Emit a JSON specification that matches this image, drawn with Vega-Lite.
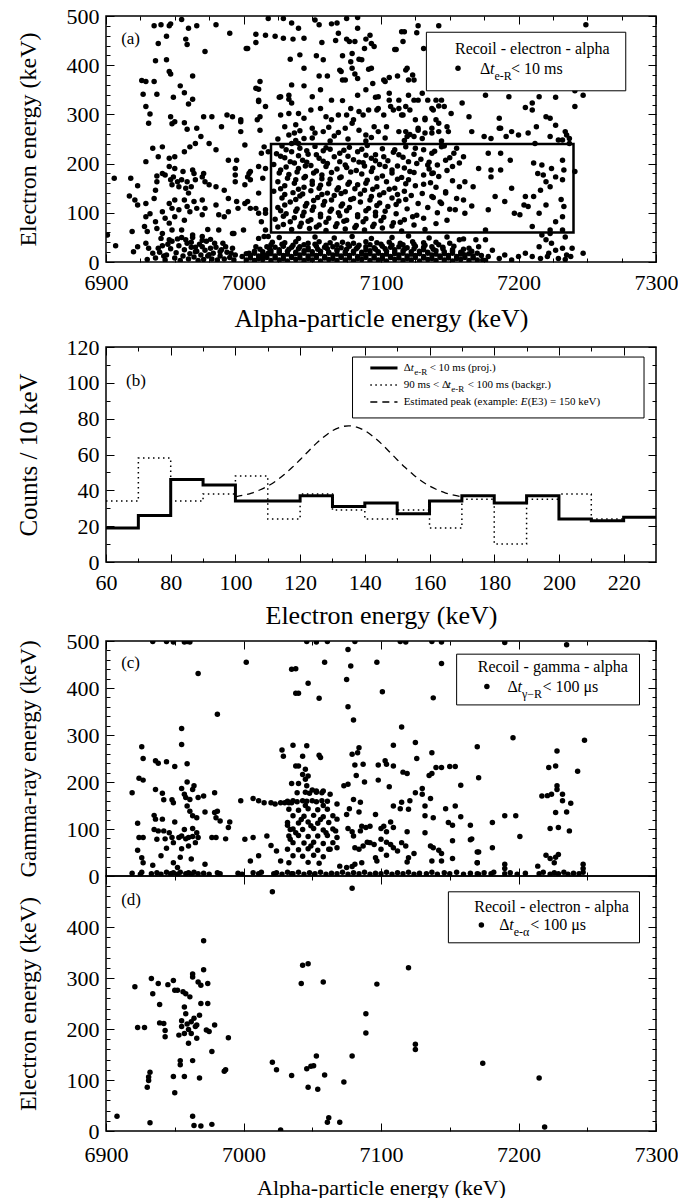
{
"$schema":"https://vega.github.io/schema/vega-lite/v6.json",
"padding":{"left":15,"top":4,"right":2,"bottom":0},
"config":{"font":"Liberation Serif, Times New Roman, Times, serif","view":{"stroke":"black","strokeWidth":1.5},
"style":{"guide-label":{"font":"Liberation Serif, Times New Roman, Times, serif"},"guide-title":{"font":"Liberation Serif, Times New Roman, Times, serif"}},
"axis":{"grid":false,"domain":false,"zindex":1,"labelFont":"Liberation Serif, Times New Roman, Times, serif","labelFontSize":22,"labelColor":"black","titleFont":"Liberation Serif, Times New Roman, Times, serif","titleFontSize":24,"titleFontWeight":"normal","titleColor":"black","tickColor":"black","tickWidth":1,"labelFlush":false,"labelOverlap":false},
"text":{"font":"Liberation Serif, Times New Roman, Times, serif","color":"black"}},
"datasets":{
"pa":[{"a":6935,"e":480},{"a":6940,"e":482},{"a":6946,"e":480},{"a":6947,"e":484},{"a":6955,"e":493},{"a":6960,"e":475},{"a":6966,"e":480},{"a":6980,"e":482},{"a":6990,"e":465},{"a":6958,"e":453},{"a":6959,"e":442},{"a":6938,"e":444},{"a":6944,"e":459},{"a":6972,"e":428},{"a":7002,"e":434},{"a":7009,"e":463},{"a":7009,"e":446},{"a":7018,"e":495},{"a":7029,"e":495},{"a":7023,"e":459},
{"a":6936,"e":409},{"a":6944,"e":411},{"a":6946,"e":387},{"a":6947,"e":382},{"a":6963,"e":378},{"a":6926,"e":369},{"a":6929,"e":367},{"a":6935,"e":367},{"a":6927,"e":341},{"a":6937,"e":341},{"a":6929,"e":316},{"a":6931,"e":282},{"a":6932,"e":301},{"a":6949,"e":335},{"a":6954,"e":358},{"a":6957,"e":344},{"a":6963,"e":331},{"a":6960,"e":321},{"a":6947,"e":295},{"a":6948,"e":281},{"a":6950,"e":285},{"a":6957,"e":283},{"a":6959,"e":270},{"a":6966,"e":272},{"a":6969,"e":255},{"a":6965,"e":241},{"a":6971,"e":295},{"a":6977,"e":295},{"a":6984,"e":275},{"a":6988,"e":299},{"a":6992,"e":295},{"a":6998,"e":289},{"a":6998,"e":265},{"a":7001,"e":238},{"a":7011,"e":351},{"a":7011,"e":326},{"a":7012,"e":295},{"a":7016,"e":316},{"a":7026,"e":335},{"a":7027,"e":299},{"a":7033,"e":302},{"a":7033,"e":339},{"a":7033,"e":331},{"a":7035,"e":360},{"a":7044,"e":251},{"a":7037,"e":262},{"a":7035,"e":241},{"a":7040,"e":241},{"a":6975,"e":241},{"a":6980,"e":228},{"a":6961,"e":234},{"a":6957,"e":224},{"a":6950,"e":214},{"a":6946,"e":211},{"a":6938,"e":214},{"a":6941,"e":234},{"a":6929,"e":204},{"a":6934,"e":231},
{"a":6906,"e":170},{"a":6918,"e":170},{"a":6923,"e":155},{"a":6917,"e":134},{"a":6921,"e":126},{"a":6923,"e":116},{"a":6929,"e":119},{"a":6932,"e":98},{"a":6929,"e":92},{"a":6928,"e":72},{"a":6930,"e":62},{"a":6936,"e":82},{"a":6937,"e":68},{"a":6935,"e":129},{"a":6936,"e":146},{"a":6937,"e":175},{"a":6941,"e":180},{"a":6937,"e":163},{"a":6943,"e":177},{"a":6946,"e":194},{"a":6947,"e":167},{"a":6948,"e":157},{"a":6949,"e":173},{"a":6950,"e":190},{"a":6952,"e":163},{"a":6953,"e":153},{"a":6955,"e":167},{"a":6956,"e":184},{"a":6958,"e":150},{"a":6959,"e":163},{"a":6960,"e":140},{"a":6963,"e":187},{"a":6964,"e":180},{"a":6965,"e":167},{"a":6962,"e":153},{"a":6970,"e":173},{"a":6972,"e":163},{"a":6971,"e":180},{"a":6975,"e":157},{"a":6946,"e":119},{"a":6948,"e":109},{"a":6950,"e":126},{"a":6953,"e":106},{"a":6957,"e":126},{"a":6959,"e":113},{"a":6961,"e":102},{"a":6964,"e":123},{"a":6966,"e":109},{"a":6970,"e":126},{"a":6972,"e":109},{"a":6980,"e":116},{"a":6982,"e":96},{"a":6989,"e":102},{"a":6941,"e":102},{"a":6943,"e":89},{"a":6950,"e":92},{"a":6957,"e":85},{"a":6946,"e":79},{"a":6941,"e":58},{"a":6948,"e":65},{"a":6955,"e":65},{"a":6963,"e":55},{"a":6970,"e":52},{"a":6974,"e":66},{"a":6992,"e":58},{"a":6982,"e":65},{"a":6986,"e":92},{"a":6970,"e":96},
{"a":6901,"e":55},{"a":6907,"e":33},{"a":6919,"e":62},{"a":6923,"e":31},{"a":6920,"e":21},{"a":6929,"e":38},{"a":6931,"e":28},{"a":6934,"e":18},{"a":6930,"e":5},
{"a":7012,"e":367},{"a":7012,"e":268},{"a":7018,"e":224},{"a":7003,"e":173},{"a":7005,"e":184},{"a":7011,"e":194},{"a":7014,"e":170},{"a":7016,"e":190},{"a":7011,"e":140},{"a":6995,"e":123},{"a":7001,"e":119},{"a":7005,"e":109},{"a":7011,"e":99},{"a":7016,"e":106},{"a":6989,"e":207},{"a":6994,"e":190},{"a":6986,"e":146},{"a":6980,"e":153},{"a":6989,"e":129},{"a":6994,"e":163},{"a":7000,"e":65},{"a":7011,"e":48},{"a":7018,"e":52},{"a":7009,"e":31},{"a":6999,"e":11},{"a":7004,"e":18},{"a":6992,"e":28},{"a":6983,"e":21},{"a":6976,"e":28},{"a":6970,"e":31},{"a":6965,"e":21},{"a":6994,"e":14},{"a":7014,"e":11},{"a":7018,"e":18},
{"a":6936,"e":8},{"a":6939,"e":20},{"a":6941,"e":33},{"a":6943,"e":4},{"a":6944,"e":14},{"a":6947,"e":27},{"a":6948,"e":42},{"a":6950,"e":8},{"a":6951,"e":19},{"a":6953,"e":33},{"a":6954,"e":3},{"a":6956,"e":12},{"a":6957,"e":25},{"a":6958,"e":45},{"a":6959,"e":38},{"a":6960,"e":6},{"a":6961,"e":17},{"a":6962,"e":30},{"a":6964,"e":10},{"a":6966,"e":22},{"a":6967,"e":3},{"a":6968,"e":36},{"a":6969,"e":14},{"a":6971,"e":5},{"a":6972,"e":24},{"a":6973,"e":42},{"a":6974,"e":12},{"a":6977,"e":6},{"a":6978,"e":18},{"a":6980,"e":30},{"a":6981,"e":4},{"a":6983,"e":12},{"a":6985,"e":38},{"a":6986,"e":6},{"a":6988,"e":20},{"a":6990,"e":9},{"a":6993,"e":4},{"a":6945,"e":36},{"a":6952,"e":47},{"a":6963,"e":50},{"a":6940,"e":48},{"a":6976,"e":46},{"a":6938,"e":28},{"a":6946,"e":45},{"a":6955,"e":50},{"a":6962,"e":40},{"a":6970,"e":44},{"a":6979,"e":38},{"a":6987,"e":31},{"a":6942,"e":12},{"a":6965,"e":30},{"a":6975,"e":15},{"a":6984,"e":25},{"a":6991,"e":18},
{"a":7035,"e":486},{"a":7040,"e":475},{"a":7052,"e":492},{"a":7055,"e":482},{"a":7064,"e":484},{"a":7075,"e":495},{"a":7083,"e":497},{"a":7016,"e":461},{"a":7029,"e":455},{"a":7036,"e":453},{"a":7044,"e":455},{"a":7057,"e":446},{"a":7067,"e":450},{"a":7075,"e":453},{"a":7081,"e":448},{"a":7088,"e":434},{"a":7093,"e":444},{"a":7092,"e":461},{"a":7110,"e":432},{"a":7116,"e":448},{"a":7126,"e":466},{"a":7142,"e":480},{"a":7115,"e":468},{"a":7003,"e":434},{"a":7034,"e":412},{"a":7041,"e":421},{"a":7053,"e":419},{"a":7058,"e":411},{"a":7072,"e":419},{"a":7078,"e":407},{"a":7084,"e":412},{"a":7044,"e":394},{"a":7055,"e":378},{"a":7061,"e":378},{"a":7070,"e":390},{"a":7074,"e":370},{"a":7081,"e":382},{"a":7093,"e":394},{"a":7102,"e":370},{"a":7106,"e":375},{"a":7118,"e":390},{"a":7123,"e":380},{"a":7124,"e":370},{"a":7120,"e":370},{"a":7044,"e":358},{"a":7056,"e":350},{"a":7050,"e":336},{"a":7064,"e":329},{"a":7072,"e":328},{"a":7083,"e":339},{"a":7096,"e":335},{"a":7106,"e":329},{"a":7113,"e":312},{"a":7118,"e":316},{"a":7124,"e":329},{"a":7130,"e":343},{"a":7140,"e":329},{"a":7142,"e":317},{"a":7027,"e":336},{"a":7035,"e":323},{"a":7040,"e":302},{"a":7044,"e":292},{"a":7049,"e":309},{"a":7056,"e":312},{"a":7060,"e":295},{"a":7064,"e":289},{"a":7069,"e":299},{"a":7075,"e":299},{"a":7078,"e":312},{"a":7080,"e":289},{"a":7084,"e":306},{"a":7087,"e":299},{"a":7091,"e":309},{"a":7098,"e":312},{"a":7102,"e":299},{"a":7109,"e":309},{"a":7116,"e":299},{"a":7121,"e":309},{"a":7132,"e":289},{"a":7138,"e":309},{"a":7146,"e":316},{"a":7030,"e":275},{"a":7038,"e":279},{"a":7041,"e":267},{"a":7050,"e":272},{"a":7052,"e":262},{"a":7058,"e":265},{"a":7062,"e":274},{"a":7069,"e":263},{"a":7074,"e":272},{"a":7079,"e":282},{"a":7084,"e":268},{"a":7089,"e":258},{"a":7095,"e":275},{"a":7098,"e":265},{"a":7104,"e":275},{"a":7113,"e":265},{"a":7118,"e":265},{"a":7124,"e":255},{"a":7127,"e":272},{"a":7132,"e":262},{"a":7137,"e":272},{"a":7142,"e":265},{"a":7148,"e":275},{"a":7140,"e":289},{"a":7009,"e":353},{"a":7011,"e":329},{"a":7010,"e":289},{"a":6998,"e":285},{"a":7015,"e":234},{"a":7013,"e":221},{"a":7004,"e":180},{"a":7005,"e":167},{"a":7001,"e":157},{"a":6995,"e":207},{"a":6994,"e":177},{"a":7003,"e":123},{"a":7009,"e":109},{"a":7016,"e":99},{"a":7013,"e":82},{"a":7016,"e":65},{"a":7015,"e":52},{"a":6993,"e":58},{"a":6996,"e":109},
{"a":7025,"e":250},{"a":7038,"e":247},{"a":7050,"e":252},{"a":7063,"e":246},{"a":7076,"e":250},{"a":7089,"e":246},{"a":7103,"e":252},{"a":7117,"e":247},{"a":7130,"e":251},{"a":7144,"e":246},{"a":7033,"e":258},{"a":7066,"e":256},{"a":7093,"e":253},{"a":7121,"e":259},
{"a":7068,"e":486},{"a":7083,"e":475},{"a":7089,"e":453},{"a":7095,"e":438},{"a":7077,"e":448},{"a":7111,"e":432},{"a":7117,"e":468},{"a":7127,"e":480},{"a":7071,"e":387},{"a":7079,"e":394},{"a":7083,"e":373},{"a":7091,"e":392},{"a":7094,"e":363},{"a":7103,"e":367},{"a":7112,"e":378},{"a":7119,"e":394},{"a":7131,"e":434},{"a":7176,"e":339},{"a":7193,"e":336},{"a":7210,"e":323},{"a":7215,"e":336},{"a":7227,"e":335},{"a":7241,"e":348},{"a":7247,"e":339},{"a":7249,"e":482},{"a":7241,"e":316},{"a":7220,"e":295},{"a":7223,"e":292},{"a":7210,"e":309},{"a":7205,"e":314},{"a":7186,"e":292},{"a":7191,"e":255},{"a":7186,"e":272},{"a":7164,"e":295},{"a":7151,"e":302},{"a":7159,"e":323},{"a":7144,"e":329},{"a":7134,"e":329},{"a":7137,"e":312},{"a":7212,"e":241},{"a":7232,"e":248},{"a":7235,"e":258},{"a":7237,"e":251},{"a":7223,"e":255},{"a":7207,"e":262},{"a":7200,"e":258},
{"a":7069,"e":465},{"a":7079,"e":424},{"a":7086,"e":411},{"a":7072,"e":370},{"a":7089,"e":350},{"a":7098,"e":336},{"a":7106,"e":343},{"a":7113,"e":329},{"a":7120,"e":339},{"a":7127,"e":329},{"a":7097,"e":309},{"a":7107,"e":316},{"a":7115,"e":299},{"a":7125,"e":289},{"a":7132,"e":292},{"a":7142,"e":282},{"a":7149,"e":265},{"a":7137,"e":262},{"a":7127,"e":268},{"a":7119,"e":255},{"a":7166,"e":265},{"a":7175,"e":255},{"a":7187,"e":272},{"a":7195,"e":265},{"a":7227,"e":278},{"a":7234,"e":265},{"a":7237,"e":241},{"a":7180,"e":251},{"a":7213,"e":275},{"a":7229,"e":248},
{"a":7028,"e":236},{"a":7041,"e":231},{"a":7052,"e":235},{"a":7063,"e":229},{"a":7077,"e":233},{"a":7090,"e":237},{"a":7101,"e":230},{"a":7118,"e":234},{"a":7131,"e":228},{"a":7146,"e":236},
{"a":7024,"e":220},{"a":7035,"e":224},{"a":7047,"e":219},{"a":7058,"e":226},{"a":7070,"e":221},{"a":7083,"e":224},{"a":7096,"e":218},{"a":7109,"e":223},{"a":7124,"e":219},{"a":7139,"e":225},{"a":7153,"e":221},
{"a":7030,"e":212},{"a":7043,"e":207},{"a":7055,"e":211},{"a":7066,"e":214},{"a":7080,"e":208},{"a":7093,"e":211},{"a":7105,"e":206},{"a":7116,"e":213},{"a":7129,"e":209},{"a":7150,"e":212},
{"a":7022,"e":198},{"a":7037,"e":201},{"a":7049,"e":196},{"a":7061,"e":200},{"a":7074,"e":197},{"a":7087,"e":202},{"a":7099,"e":198},{"a":7112,"e":195},{"a":7126,"e":200},{"a":7141,"e":197},{"a":7157,"e":201},
{"a":7027,"e":187},{"a":7040,"e":190},{"a":7053,"e":185},{"a":7068,"e":189},{"a":7082,"e":186},{"a":7094,"e":191},{"a":7108,"e":187},{"a":7121,"e":184},{"a":7135,"e":189},{"a":7148,"e":186},
{"a":7033,"e":178},{"a":7045,"e":174},{"a":7057,"e":177},{"a":7071,"e":173},{"a":7086,"e":179},{"a":7101,"e":175},{"a":7115,"e":172},{"a":7131,"e":177},{"a":7142,"e":174},
{"a":7025,"e":163},{"a":7038,"e":167},{"a":7050,"e":164},{"a":7063,"e":168},{"a":7077,"e":162},{"a":7090,"e":166},{"a":7104,"e":163},{"a":7120,"e":167},{"a":7136,"e":161},{"a":7152,"e":165},
{"a":7030,"e":155},{"a":7044,"e":152},{"a":7056,"e":156},{"a":7069,"e":151},{"a":7083,"e":157},{"a":7097,"e":153},{"a":7110,"e":150},{"a":7125,"e":155},{"a":7140,"e":152},
{"a":7022,"e":144},{"a":7036,"e":141},{"a":7049,"e":145},{"a":7061,"e":140},{"a":7074,"e":143},{"a":7088,"e":146},{"a":7102,"e":141},{"a":7117,"e":144},{"a":7130,"e":139},{"a":7147,"e":143},
{"a":7028,"e":130},{"a":7041,"e":134},{"a":7054,"e":131},{"a":7066,"e":135},{"a":7080,"e":129},{"a":7093,"e":133},{"a":7108,"e":130},{"a":7122,"e":135},{"a":7138,"e":131},{"a":7155,"e":129},
{"a":7034,"e":122},{"a":7046,"e":119},{"a":7059,"e":123},{"a":7072,"e":118},{"a":7085,"e":122},{"a":7099,"e":120},{"a":7113,"e":124},{"a":7127,"e":119},{"a":7143,"e":122},
{"a":7025,"e":111},{"a":7039,"e":108},{"a":7051,"e":112},{"a":7064,"e":107},{"a":7077,"e":111},{"a":7091,"e":109},{"a":7105,"e":113},{"a":7119,"e":108},{"a":7134,"e":111},{"a":7150,"e":107},
{"a":7031,"e":98},{"a":7044,"e":101},{"a":7056,"e":97},{"a":7069,"e":100},{"a":7083,"e":96},{"a":7096,"e":101},{"a":7111,"e":98},{"a":7126,"e":95},{"a":7141,"e":100},
{"a":7023,"e":87},{"a":7037,"e":90},{"a":7049,"e":86},{"a":7062,"e":89},{"a":7075,"e":85},{"a":7089,"e":88},{"a":7102,"e":91},{"a":7117,"e":86},{"a":7131,"e":89},{"a":7148,"e":85},
{"a":7029,"e":76},{"a":7042,"e":79},{"a":7055,"e":75},{"a":7068,"e":78},{"a":7082,"e":74},{"a":7095,"e":77},{"a":7109,"e":80},{"a":7124,"e":75},{"a":7140,"e":78},
{"a":7035,"e":66},{"a":7048,"e":68},{"a":7060,"e":64},{"a":7074,"e":67},{"a":7088,"e":65},{"a":7101,"e":69},{"a":7115,"e":63},{"a":7132,"e":66},
{"a":7031,"e":228},{"a":7046,"e":226},{"a":7060,"e":232},{"a":7073,"e":227},{"a":7086,"e":229},{"a":7110,"e":228},{"a":7125,"e":231},
{"a":7027,"e":215},{"a":7040,"e":216},{"a":7053,"e":218},{"a":7076,"e":215},{"a":7089,"e":217},{"a":7102,"e":214},{"a":7113,"e":218},
{"a":7034,"e":204},{"a":7046,"e":203},{"a":7058,"e":205},{"a":7070,"e":204},{"a":7084,"e":203},{"a":7096,"e":206},{"a":7120,"e":204},{"a":7135,"e":203},
{"a":7031,"e":193},{"a":7045,"e":195},{"a":7060,"e":194},{"a":7075,"e":192},{"a":7088,"e":195},{"a":7103,"e":194},{"a":7117,"e":191},
{"a":7026,"e":181},{"a":7039,"e":183},{"a":7051,"e":181},{"a":7064,"e":182},{"a":7078,"e":183},{"a":7093,"e":184},{"a":7108,"e":181},{"a":7124,"e":182},{"a":7138,"e":181},
{"a":7032,"e":170},{"a":7044,"e":171},{"a":7057,"e":169},{"a":7070,"e":171},{"a":7097,"e":170},{"a":7112,"e":168},
{"a":7037,"e":160},{"a":7050,"e":158},{"a":7062,"e":159},{"a":7076,"e":158},{"a":7089,"e":160},{"a":7118,"e":159},{"a":7131,"e":158},
{"a":7027,"e":149},{"a":7040,"e":148},{"a":7055,"e":150},{"a":7068,"e":147},{"a":7081,"e":149},{"a":7094,"e":148},{"a":7106,"e":148},
{"a":7030,"e":137},{"a":7043,"e":138},{"a":7057,"e":137},{"a":7071,"e":139},{"a":7085,"e":138},{"a":7099,"e":136},{"a":7112,"e":137},
{"a":7038,"e":127},{"a":7051,"e":125},{"a":7064,"e":126},{"a":7078,"e":127},{"a":7092,"e":126},{"a":7118,"e":127},
{"a":7030,"e":116},{"a":7045,"e":114},{"a":7058,"e":116},{"a":7071,"e":114},{"a":7097,"e":115},{"a":7111,"e":117},
{"a":7027,"e":104},{"a":7038,"e":103},{"a":7050,"e":105},{"a":7063,"e":103},{"a":7075,"e":104},{"a":7089,"e":104},{"a":7103,"e":103},
{"a":7029,"e":93},{"a":7043,"e":94},{"a":7056,"e":92},{"a":7070,"e":94},{"a":7083,"e":92},{"a":7096,"e":94},{"a":7123,"e":92},
{"a":7034,"e":82},{"a":7047,"e":83},{"a":7060,"e":81},{"a":7073,"e":83},{"a":7087,"e":82},{"a":7100,"e":84},{"a":7114,"e":81},
{"a":7025,"e":71},{"a":7041,"e":72},{"a":7053,"e":71},{"a":7067,"e":72},{"a":7081,"e":70},{"a":7094,"e":72},{"a":7108,"e":73},
{"a":7002,"e":4},{"a":7008,"e":3},{"a":7014,"e":5},{"a":7020,"e":3},{"a":7026,"e":4},{"a":7032,"e":2},{"a":7038,"e":5},{"a":7044,"e":3},{"a":7050,"e":4},{"a":7056,"e":2},{"a":7062,"e":5},{"a":7068,"e":3},{"a":7074,"e":4},{"a":7080,"e":2},{"a":7086,"e":5},{"a":7092,"e":3},{"a":7098,"e":4},{"a":7104,"e":2},{"a":7110,"e":5},{"a":7116,"e":3},{"a":7122,"e":4},{"a":7128,"e":2},{"a":7134,"e":5},{"a":7140,"e":3},{"a":7146,"e":4},{"a":7152,"e":2},{"a":7158,"e":5},{"a":7164,"e":3},{"a":7170,"e":4},{"a":7176,"e":3},
{"a":7005,"e":13},{"a":7011,"e":12},{"a":7017,"e":14},{"a":7023,"e":12},{"a":7029,"e":13},{"a":7035,"e":11},{"a":7041,"e":14},{"a":7047,"e":12},{"a":7053,"e":13},{"a":7059,"e":11},{"a":7065,"e":14},{"a":7071,"e":12},{"a":7077,"e":13},{"a":7083,"e":11},{"a":7089,"e":14},{"a":7095,"e":12},{"a":7101,"e":13},{"a":7107,"e":11},{"a":7113,"e":14},{"a":7119,"e":12},{"a":7125,"e":13},{"a":7131,"e":11},{"a":7137,"e":14},{"a":7143,"e":12},{"a":7149,"e":13},{"a":7155,"e":11},{"a":7161,"e":14},{"a":7167,"e":12},{"a":7173,"e":13},
{"a":7008,"e":22},{"a":7014,"e":21},{"a":7020,"e":23},{"a":7026,"e":21},{"a":7032,"e":22},{"a":7038,"e":20},{"a":7044,"e":23},{"a":7050,"e":21},{"a":7056,"e":22},{"a":7062,"e":20},{"a":7068,"e":23},{"a":7074,"e":21},{"a":7080,"e":22},{"a":7086,"e":20},{"a":7092,"e":23},{"a":7098,"e":21},{"a":7104,"e":22},{"a":7110,"e":20},{"a":7116,"e":23},{"a":7122,"e":21},{"a":7128,"e":22},{"a":7134,"e":20},{"a":7140,"e":23},{"a":7146,"e":21},{"a":7152,"e":22},{"a":7158,"e":20},{"a":7166,"e":22},
{"a":7017,"e":31},{"a":7023,"e":30},{"a":7029,"e":32},{"a":7035,"e":30},{"a":7041,"e":31},{"a":7047,"e":29},{"a":7053,"e":32},{"a":7059,"e":30},{"a":7065,"e":31},{"a":7071,"e":29},{"a":7077,"e":32},{"a":7083,"e":30},{"a":7089,"e":31},{"a":7095,"e":29},{"a":7101,"e":32},{"a":7107,"e":30},{"a":7113,"e":31},{"a":7119,"e":29},{"a":7125,"e":32},{"a":7131,"e":30},{"a":7137,"e":31},{"a":7145,"e":30},{"a":7153,"e":32},
{"a":7021,"e":40},{"a":7030,"e":39},{"a":7038,"e":41},{"a":7047,"e":38},{"a":7055,"e":41},{"a":7063,"e":39},{"a":7072,"e":40},{"a":7080,"e":38},{"a":7089,"e":41},{"a":7097,"e":39},{"a":7106,"e":40},{"a":7114,"e":38},{"a":7123,"e":41},{"a":7131,"e":39},{"a":7140,"e":40},{"a":7150,"e":38},
{"a":7026,"e":50},{"a":7040,"e":48},{"a":7052,"e":51},{"a":7066,"e":49},{"a":7079,"e":52},{"a":7093,"e":48},{"a":7108,"e":50},{"a":7120,"e":53},{"a":7135,"e":49},{"a":7148,"e":51},{"a":7160,"e":47},
{"a":7005,"e":8},{"a":7011,"e":7},{"a":7017,"e":9},{"a":7023,"e":8},{"a":7029,"e":7},{"a":7035,"e":9},{"a":7041,"e":8},{"a":7047,"e":7},{"a":7053,"e":9},{"a":7059,"e":8},{"a":7065,"e":7},{"a":7071,"e":9},{"a":7077,"e":8},{"a":7083,"e":7},{"a":7089,"e":9},{"a":7095,"e":8},{"a":7101,"e":7},{"a":7107,"e":9},{"a":7113,"e":8},{"a":7119,"e":7},{"a":7125,"e":9},{"a":7131,"e":8},{"a":7137,"e":7},{"a":7143,"e":9},{"a":7149,"e":8},{"a":7155,"e":7},{"a":7161,"e":9},{"a":7167,"e":8},
{"a":7002,"e":17},{"a":7008,"e":18},{"a":7014,"e":16},{"a":7020,"e":17},{"a":7026,"e":18},{"a":7032,"e":16},{"a":7038,"e":17},{"a":7044,"e":18},{"a":7050,"e":16},{"a":7056,"e":17},{"a":7062,"e":18},{"a":7068,"e":16},{"a":7074,"e":17},{"a":7080,"e":18},{"a":7086,"e":16},{"a":7092,"e":17},{"a":7098,"e":18},{"a":7104,"e":16},{"a":7110,"e":17},{"a":7116,"e":18},{"a":7122,"e":16},{"a":7128,"e":17},{"a":7134,"e":18},{"a":7140,"e":16},{"a":7146,"e":17},{"a":7152,"e":18},{"a":7158,"e":16},{"a":7164,"e":17},{"a":7170,"e":18},
{"a":7012,"e":26},{"a":7019,"e":27},{"a":7026,"e":25},{"a":7033,"e":26},{"a":7040,"e":27},{"a":7047,"e":25},{"a":7054,"e":26},{"a":7061,"e":27},{"a":7068,"e":25},{"a":7075,"e":26},{"a":7082,"e":27},{"a":7089,"e":25},{"a":7096,"e":26},{"a":7103,"e":27},{"a":7110,"e":25},{"a":7117,"e":26},{"a":7124,"e":27},{"a":7131,"e":25},{"a":7138,"e":26},{"a":7145,"e":27},{"a":7152,"e":25},{"a":7160,"e":26},
{"a":7020,"e":35},{"a":7028,"e":36},{"a":7036,"e":34},{"a":7044,"e":35},{"a":7052,"e":36},{"a":7060,"e":34},{"a":7068,"e":35},{"a":7076,"e":36},{"a":7084,"e":34},{"a":7092,"e":35},{"a":7100,"e":36},{"a":7108,"e":34},{"a":7116,"e":35},{"a":7124,"e":36},{"a":7132,"e":34},{"a":7142,"e":35},
{"a":7171,"e":31},{"a":7176,"e":45},{"a":7169,"e":45},{"a":7164,"e":28},{"a":7159,"e":18},{"a":7157,"e":45},{"a":7178,"e":11},{"a":7186,"e":7},{"a":7190,"e":14},{"a":7200,"e":11},{"a":7205,"e":18},{"a":7210,"e":11},{"a":7215,"e":31},{"a":7220,"e":45},{"a":7224,"e":38},{"a":7222,"e":18},{"a":7227,"e":24},{"a":7232,"e":28},{"a":7235,"e":14},{"a":7229,"e":7},{"a":7247,"e":18},{"a":7217,"e":55},{"a":7223,"e":58},{"a":7234,"e":51},{"a":7232,"e":65},{"a":7216,"e":7},{"a":7221,"e":11},{"a":7234,"e":5},{"a":7238,"e":11},{"a":7239,"e":28},{"a":7195,"e":4},{"a":7174,"e":4},{"a":7181,"e":24},
{"a":7178,"e":221},{"a":7187,"e":221},{"a":7194,"e":207},{"a":7171,"e":190},{"a":7180,"e":187},{"a":7180,"e":173},{"a":7187,"e":187},{"a":7195,"e":150},{"a":7183,"e":133},{"a":7190,"e":123},{"a":7204,"e":116},{"a":7207,"e":113},{"a":7211,"e":133},{"a":7205,"e":133},{"a":7211,"e":201},{"a":7217,"e":197},{"a":7214,"e":180},{"a":7218,"e":177},{"a":7224,"e":190},{"a":7227,"e":173},{"a":7232,"e":207},{"a":7233,"e":187},{"a":7220,"e":163},{"a":7223,"e":153},{"a":7216,"e":146},{"a":7232,"e":167},{"a":7233,"e":113},{"a":7231,"e":127},{"a":7220,"e":116},{"a":7215,"e":99},{"a":7227,"e":82},{"a":7232,"e":92},{"a":7223,"e":65},{"a":7241,"e":184},{"a":7167,"e":153},{"a":7161,"e":163},{"a":7157,"e":153},{"a":7160,"e":126},{"a":7154,"e":106},{"a":7161,"e":99},{"a":7166,"e":114},{"a":7147,"e":140},{"a":7137,"e":133},{"a":7144,"e":119},{"a":7152,"e":194},{"a":7147,"e":207},{"a":7160,"e":214},{"a":7155,"e":231},{"a":7144,"e":234},{"a":7137,"e":221},{"a":7134,"e":197},{"a":7137,"e":180},{"a":7176,"e":65},{"a":7210,"e":72},{"a":7201,"e":96},{"a":7178,"e":106},{"a":7197,"e":99}],
"pc":[{"a":6934,"e":499},{"a":6944,"e":499},{"a":6949,"e":498},{"a":6957,"e":498},{"a":6959,"e":499},{"a":6961,"e":498},{"a":7046,"e":499},{"a":7053,"e":498},{"a":7061,"e":499},{"a":7081,"e":499},{"a":7114,"e":499},{"a":7118,"e":498},{"a":7137,"e":499},{"a":7144,"e":498},{"a":7190,"e":497},{"a":7235,"e":492},
{"a":6967,"e":431},{"a":7002,"e":455},{"a":6981,"e":344},{"a":6955,"e":314},{"a":6955,"e":280},{"a":6926,"e":275},{"a":6927,"e":250},{"a":6924,"e":208},{"a":6927,"e":204},{"a":6919,"e":177},{"a":6923,"e":112},{"a":6924,"e":82},{"a":6927,"e":82},{"a":6923,"e":55},{"a":6926,"e":39},{"a":6927,"e":28},{"a":6936,"e":245},{"a":6938,"e":240},{"a":6944,"e":243},{"a":6950,"e":233},{"a":6959,"e":239},
{"a":6936,"e":184},{"a":6941,"e":176},{"a":6942,"e":162},{"a":6948,"e":162},{"a":6949,"e":156},{"a":6955,"e":186},{"a":6957,"e":174},{"a":6959,"e":200},{"a":6963,"e":184},{"a":6964,"e":192},{"a":6958,"e":167},{"a":6961,"e":163},{"a":6967,"e":167},{"a":6971,"e":170},{"a":6979,"e":177},{"a":6959,"e":149},{"a":6961,"e":138},{"a":6963,"e":128},{"a":6966,"e":124},{"a":6972,"e":136},{"a":6979,"e":135},{"a":6981,"e":138},{"a":6980,"e":124},{"a":6983,"e":117},{"a":6990,"e":115},{"a":6989,"e":103},{"a":6987,"e":79},{"a":6980,"e":82},{"a":6977,"e":82},
{"a":6935,"e":129},{"a":6936,"e":121},{"a":6941,"e":121},{"a":6950,"e":115},{"a":6935,"e":99},{"a":6938,"e":96},{"a":6942,"e":96},{"a":6946,"e":92},{"a":6937,"e":78},{"a":6943,"e":79},{"a":6948,"e":82},{"a":6953,"e":82},{"a":6955,"e":85},{"a":6958,"e":79},{"a":6960,"e":82},{"a":6963,"e":84},{"a":6957,"e":99},{"a":6963,"e":101},{"a":6966,"e":92},{"a":6967,"e":82},{"a":6955,"e":58},{"a":6960,"e":64},{"a":6965,"e":71},{"a":6949,"e":71},{"a":6944,"e":59},{"a":6940,"e":43},{"a":6954,"e":40},{"a":6962,"e":36},{"a":6972,"e":25},{"a":6934,"e":23},{"a":6949,"e":28},{"a":6952,"e":18},
{"a":6919,"e":6},{"a":6925,"e":4},{"a":6926,"e":8},{"a":6933,"e":5},{"a":6937,"e":7},{"a":6940,"e":4},{"a":6944,"e":8},{"a":6947,"e":5},{"a":6949,"e":7},{"a":6952,"e":4},{"a":6954,"e":8},{"a":6958,"e":5},{"a":6960,"e":7},{"a":6962,"e":4},{"a":6964,"e":8},{"a":6967,"e":5},{"a":6971,"e":6},{"a":6975,"e":4},{"a":6981,"e":7},{"a":6983,"e":5},{"a":6996,"e":6},{"a":6999,"e":4},{"a":7007,"e":7},{"a":7011,"e":5},{"a":7013,"e":8},{"a":7022,"e":5},{"a":7024,"e":7},{"a":7028,"e":4},{"a":7032,"e":8},{"a":7035,"e":5},
{"a":6998,"e":160},{"a":7007,"e":165},{"a":7011,"e":160},{"a":7015,"e":156},{"a":7020,"e":156},{"a":7023,"e":153},{"a":7027,"e":156},{"a":7030,"e":156},{"a":7033,"e":156},{"a":7035,"e":156},{"a":7028,"e":268},{"a":7029,"e":255},{"a":7035,"e":440},{"a":7038,"e":441},{"a":7036,"e":278},{"a":7038,"e":389},{"a":7038,"e":234},{"a":7001,"e":78},{"a":7007,"e":82},{"a":7005,"e":32},{"a":7011,"e":43},{"a":7017,"e":85},{"a":7020,"e":65},{"a":7024,"e":53},{"a":7027,"e":32},{"a":7032,"e":108},{"a":7034,"e":99},
{"a":7076,"e":482},{"a":7059,"e":455},{"a":7078,"e":447},{"a":7097,"e":455},{"a":7144,"e":452},{"a":7047,"e":410},{"a":7075,"e":418},{"a":7040,"e":389},{"a":7055,"e":378},{"a":7101,"e":392},{"a":7138,"e":379},{"a":7076,"e":360},{"a":7080,"e":332},{"a":7115,"e":317},{"a":7046,"e":277},{"a":7084,"e":273},{"a":7083,"e":262},{"a":7079,"e":259},{"a":7109,"e":278},{"a":7125,"e":284},{"a":7137,"e":262},{"a":7170,"e":275},{"a":7043,"e":255},{"a":7040,"e":234},{"a":7055,"e":257},{"a":7056,"e":252},{"a":7081,"e":236},{"a":7087,"e":238},{"a":7098,"e":236},{"a":7103,"e":245},{"a":7104,"e":238},{"a":7109,"e":234},{"a":7116,"e":221},{"a":7119,"e":218},{"a":7126,"e":250},{"a":7135,"e":214},{"a":7137,"e":218},{"a":7140,"e":231},{"a":7144,"e":231},{"a":7150,"e":233},{"a":7154,"e":233},{"a":7171,"e":209},{"a":7082,"e":214},{"a":7043,"e":216},{"a":7035,"e":197},{"a":7088,"e":200},{"a":7098,"e":204},{"a":7076,"e":195},{"a":7073,"e":192},{"a":7106,"e":190},{"a":7130,"e":186},{"a":7130,"e":174},{"a":7125,"e":177},{"a":7158,"e":193},
{"a":7068,"e":153},{"a":7080,"e":163},{"a":7085,"e":157},{"a":7077,"e":143},{"a":7075,"e":131},{"a":7084,"e":136},{"a":7096,"e":131},{"a":7109,"e":149},{"a":7114,"e":143},{"a":7120,"e":142},{"a":7115,"e":157},{"a":7121,"e":160},{"a":7132,"e":149},{"a":7136,"e":165},{"a":7147,"e":143},{"a":7154,"e":149},{"a":7158,"e":126},{"a":7132,"e":128},{"a":7138,"e":124},{"a":7149,"e":114},{"a":7152,"e":108},{"a":7165,"e":108},{"a":7068,"e":121},{"a":7076,"e":101},{"a":7079,"e":94},{"a":7080,"e":85},{"a":7085,"e":96},{"a":7089,"e":103},{"a":7092,"e":106},{"a":7086,"e":106},{"a":7100,"e":101},{"a":7102,"e":106},{"a":7107,"e":115},{"a":7104,"e":94},{"a":7109,"e":103},{"a":7100,"e":78},{"a":7104,"e":72},{"a":7107,"e":67},{"a":7109,"e":60},{"a":7112,"e":53},{"a":7100,"e":57},{"a":7096,"e":39},{"a":7097,"e":32},{"a":7104,"e":44},{"a":7119,"e":94},{"a":7115,"e":71},{"a":7118,"e":64},{"a":7124,"e":48},{"a":7120,"e":39},{"a":7119,"e":30},{"a":7132,"e":92},{"a":7136,"e":64},{"a":7138,"e":60},{"a":7142,"e":55},{"a":7144,"e":48},{"a":7137,"e":32},{"a":7144,"e":32},{"a":7152,"e":37},{"a":7152,"e":75},{"a":7165,"e":77},{"a":7170,"e":51},{"a":7170,"e":28},{"a":7090,"e":72},{"a":7092,"e":71},{"a":7095,"e":67},{"a":7081,"e":60},{"a":7084,"e":57},{"a":7087,"e":64},{"a":7086,"e":28},{"a":7081,"e":25},{"a":7075,"e":18},{"a":7079,"e":20},{"a":7070,"e":21},{"a":7068,"e":82},{"a":7068,"e":60},{"a":7063,"e":57},{"a":7067,"e":96},
{"a":7032,"e":159},{"a":7036,"e":160},{"a":7039,"e":158},{"a":7043,"e":160},{"a":7046,"e":159},{"a":7050,"e":160},{"a":7053,"e":158},{"a":7057,"e":160},{"a":7061,"e":159},{"a":7039,"e":177},{"a":7045,"e":178},{"a":7048,"e":176},{"a":7053,"e":178},{"a":7057,"e":177},{"a":7040,"e":197},{"a":7045,"e":206},{"a":7046,"e":192},{"a":7050,"e":183},{"a":7053,"e":181},{"a":7058,"e":181},{"a":7063,"e":174},{"a":7047,"e":213},{"a":7045,"e":227},
{"a":7033,"e":142},{"a":7040,"e":140},{"a":7047,"e":143},{"a":7054,"e":141},{"a":7061,"e":142},{"a":7036,"e":128},{"a":7044,"e":127},{"a":7051,"e":129},{"a":7058,"e":126},{"a":7065,"e":128},{"a":7032,"e":114},{"a":7040,"e":113},{"a":7047,"e":115},{"a":7054,"e":112},{"a":7062,"e":114},{"a":7036,"e":100},{"a":7043,"e":99},{"a":7051,"e":101},{"a":7058,"e":98},{"a":7065,"e":100},{"a":7033,"e":85},{"a":7040,"e":86},{"a":7047,"e":84},{"a":7054,"e":85},{"a":7061,"e":86},{"a":7036,"e":71},{"a":7044,"e":70},{"a":7051,"e":72},{"a":7058,"e":69},{"a":7065,"e":71},{"a":7032,"e":57},{"a":7040,"e":56},{"a":7047,"e":58},{"a":7054,"e":55},{"a":7062,"e":57},{"a":7036,"e":43},{"a":7043,"e":42},{"a":7051,"e":44},{"a":7058,"e":41},{"a":7033,"e":28},{"a":7047,"e":29},{"a":7055,"e":27},{"a":7038,"e":92},{"a":7049,"e":107},{"a":7056,"e":120},{"a":7042,"e":120},{"a":7060,"e":92},{"a":7034,"e":78},{"a":7049,"e":64},{"a":7045,"e":150},{"a":7058,"e":150},
{"a":7196,"e":294},{"a":7248,"e":289},{"a":7228,"e":266},{"a":7222,"e":231},{"a":7227,"e":234},{"a":7243,"e":223},{"a":7228,"e":192},{"a":7228,"e":184},{"a":7217,"e":170},{"a":7221,"e":171},{"a":7224,"e":174},{"a":7232,"e":174},{"a":7232,"e":160},{"a":7238,"e":155},{"a":7190,"e":128},{"a":7198,"e":128},{"a":7181,"e":114},{"a":7227,"e":135},{"a":7235,"e":136},{"a":7223,"e":101},{"a":7229,"e":103},{"a":7237,"e":96},{"a":7201,"e":84},{"a":7166,"e":79},{"a":7171,"e":51},{"a":7181,"e":60},{"a":7220,"e":44},{"a":7223,"e":37},{"a":7227,"e":40},{"a":7229,"e":46},{"a":7226,"e":28},{"a":7214,"e":21},{"a":7190,"e":25},{"a":7190,"e":16},{"a":7170,"e":28},{"a":7247,"e":25},{"a":7247,"e":16},
{"a":7036,"e":5},{"a":7040,"e":8},{"a":7044,"e":4},{"a":7048,"e":7},{"a":7052,"e":5},{"a":7056,"e":8},{"a":7060,"e":4},{"a":7064,"e":6},{"a":7068,"e":5},{"a":7072,"e":8},{"a":7076,"e":4},{"a":7080,"e":7},{"a":7084,"e":5},{"a":7088,"e":8},{"a":7092,"e":4},{"a":7096,"e":6},{"a":7100,"e":5},{"a":7104,"e":8},{"a":7108,"e":4},{"a":7112,"e":7},{"a":7116,"e":5},{"a":7120,"e":8},{"a":7124,"e":4},{"a":7128,"e":6},{"a":7133,"e":5},{"a":7137,"e":8},{"a":7141,"e":4},{"a":7146,"e":7},{"a":7150,"e":5},{"a":7155,"e":8},{"a":7160,"e":4},{"a":7165,"e":6},{"a":7170,"e":5},
{"a":7171,"e":4},{"a":7175,"e":7},{"a":7180,"e":5},{"a":7182,"e":8},{"a":7190,"e":5},{"a":7194,"e":7},{"a":7199,"e":4},{"a":7205,"e":6},{"a":7215,"e":5},{"a":7218,"e":8},{"a":7223,"e":4},{"a":7226,"e":7},{"a":7229,"e":5},{"a":7233,"e":8},{"a":7236,"e":4},{"a":7240,"e":6},{"a":7244,"e":5},{"a":7247,"e":8}],
"pd":[{"a":6908,"e":29},{"a":6921,"e":283},{"a":6923,"e":203},{"a":6928,"e":203},{"a":6932,"e":16},{"a":6931,"e":99},{"a":6931,"e":106},{"a":6932,"e":115},{"a":6930,"e":86},{"a":6933,"e":299},{"a":6934,"e":269},{"a":6938,"e":289},{"a":6939,"e":248},{"a":6939,"e":212},{"a":6942,"e":211},{"a":6943,"e":197},{"a":6943,"e":185},{"a":6945,"e":287},{"a":6949,"e":295},{"a":6950,"e":276},{"a":6949,"e":107},{"a":6950,"e":75},{"a":6952,"e":276},{"a":6954,"e":130},{"a":6954,"e":138},{"a":6953,"e":188},{"a":6955,"e":205},{"a":6955,"e":216},{"a":6956,"e":273},{"a":6957,"e":243},{"a":6957,"e":107},{"a":6957,"e":191},{"a":6958,"e":269},{"a":6958,"e":230},{"a":6959,"e":210},{"a":6960,"e":199},{"a":6960,"e":172},{"a":6961,"e":263},{"a":6962,"e":214},{"a":6962,"e":191},{"a":6963,"e":302},{"a":6963,"e":308},{"a":6963,"e":29},{"a":6963,"e":138},{"a":6964,"e":11},{"a":6964,"e":221},{"a":6965,"e":205},{"a":6966,"e":182},{"a":6966,"e":208},{"a":6967,"e":292},{"a":6968,"e":104},{"a":6968,"e":227},{"a":6969,"e":250},{"a":6969,"e":10},{"a":6969,"e":286},{"a":6971,"e":316},{"a":6971,"e":373},{"a":6973,"e":198},{"a":6974,"e":289},{"a":6974,"e":250},{"a":6975,"e":195},{"a":6977,"e":156},{"a":6977,"e":13},{"a":6979,"e":208},{"a":6986,"e":117},{"a":6987,"e":120},{"a":6989,"e":183},{"a":7021,"e":135},{"a":7021,"e":469},{"a":7024,"e":120},{"a":7027,"e":2},{"a":7035,"e":109},{"a":7042,"e":289},{"a":7043,"e":325},{"a":7047,"e":328},{"a":7046,"e":122},{"a":7047,"e":86},{"a":7049,"e":127},{"a":7051,"e":128},{"a":7053,"e":147},{"a":7054,"e":82},{"a":7058,"e":292},{"a":7059,"e":110},{"a":7061,"e":17},{"a":7062,"e":26},{"a":7070,"e":17},{"a":7073,"e":96},{"a":7079,"e":476},{"a":7079,"e":147},{"a":7089,"e":230},{"a":7089,"e":192},{"a":7097,"e":288},{"a":7120,"e":320},{"a":7125,"e":170},{"a":7125,"e":160},{"a":7174,"e":133},{"a":7215,"e":104},{"a":7219,"e":8}],
"h1":[{"x":60,"n":19},{"x":70,"n":26},{"x":80,"n":46},{"x":90,"n":43},{"x":100,"n":34},{"x":110,"n":34},{"x":120,"n":37},{"x":130,"n":31},{"x":140,"n":33},{"x":150,"n":27},{"x":160,"n":34},{"x":170,"n":37},{"x":180,"n":33},{"x":190,"n":37},{"x":200,"n":24},{"x":210,"n":23},{"x":220,"n":25},{"x":230,"n":25}],
"h2":[{"x":60,"n":34},{"x":70,"n":58},{"x":80,"n":34},{"x":90,"n":38},{"x":100,"n":48},{"x":110,"n":24},{"x":120,"n":38},{"x":130,"n":29},{"x":140,"n":24},{"x":150,"n":29},{"x":160,"n":19},{"x":170,"n":35},{"x":180,"n":10},{"x":190,"n":35},{"x":200,"n":38},{"x":210,"n":24},{"x":220,"n":25},{"x":230,"n":25}],
"pk":[{"x":100,"n":36.4},{"x":102.5,"n":37.3},{"x":105,"n":38.5},{"x":107.5,"n":40.2},{"x":110,"n":42.4},{"x":112.5,"n":45.2},{"x":115,"n":48.7},{"x":117.5,"n":52.7},{"x":120,"n":57.1},{"x":122.5,"n":61.7},{"x":125,"n":66.2},{"x":127.5,"n":70.1},{"x":130,"n":73.3},{"x":132.5,"n":75.3},{"x":135,"n":76},{"x":137.5,"n":75.3},{"x":140,"n":73.3},{"x":142.5,"n":70.1},{"x":145,"n":66.2},{"x":147.5,"n":61.7},{"x":150,"n":57.1},{"x":152.5,"n":52.7},{"x":155,"n":48.7},{"x":157.5,"n":45.2},{"x":160,"n":42.4},{"x":162.5,"n":40.2},{"x":165,"n":38.5},{"x":167.5,"n":37.3},{"x":170,"n":36.4}]
},
"spacing":0,
"vconcat":[
{"spacing":3,"vconcat":[
{"width":550,"height":246,
"layer":[
{"data":{"name":"pa"},"mark":{"type":"circle","size":30,"color":"black","opacity":1,"clip":true},
"encoding":{
"x":{"field":"a","type":"quantitative","scale":{"domain":[6900,7300],"nice":false,"zero":false},
"axis":{"orient":"bottom","values":[6900,7000,7100,7200,7300],"format":"d","tickSize":-8,"labelPadding":18,"labelFont":"Liberation Serif, Times New Roman, Times, serif","titleFont":"Liberation Serif, Times New Roman, Times, serif","title":"Alpha-particle energy (keV)","titleFontSize":26,"titlePadding":12}},
"y":{"field":"e","type":"quantitative","scale":{"domain":[0,500],"nice":false},
"axis":{"orient":"left","values":[0,100,200,300,400,500],"format":"d","tickSize":-8,"labelPadding":15,"labelFont":"Liberation Serif, Times New Roman, Times, serif","titleFont":"Liberation Serif, Times New Roman, Times, serif","title":"Electron energy (keV)","titlePadding":26}}}},
{"data":{"values":[{}]},"mark":{"type":"rect","filled":false,"color":"black","strokeWidth":2.5},
"encoding":{"x":{"datum":7020,"type":"quantitative","axis":{"orient":"top","values":[6900,7000,7100,7200,7300],"labels":false,"tickSize":-8,"title":null}},"x2":{"datum":7240},
"y":{"datum":60,"type":"quantitative","axis":{"orient":"right","values":[0,100,200,300,400,500],"labels":false,"tickSize":-8,"title":null}},"y2":{"datum":240}}},
{"data":{"values":[{}]},"mark":{"type":"rect","fill":"white","stroke":"black","strokeWidth":1},
"encoding":{"x":{"datum":7133,"type":"quantitative","axis":{"orient":"bottom","values":[6925,6950,6975,7025,7050,7075,7125,7150,7175,7225,7250,7275],"labels":false,"tickSize":-4,"title":null}},"x2":{"datum":7278},
"y":{"datum":348,"type":"quantitative","axis":{"orient":"left","values":[20,40,60,80,120,140,160,180,220,240,260,280,320,340,360,380,420,440,460,480],"labels":false,"tickSize":-4,"title":null}},"y2":{"datum":467}}},
{"data":{"values":[{}]},"mark":{"type":"circle","size":30,"color":"black","opacity":1},
"encoding":{"x":{"datum":7156,"type":"quantitative","axis":{"orient":"top","values":[6925,6950,6975,7025,7050,7075,7125,7150,7175,7225,7250,7275],"labels":false,"tickSize":-4,"title":null}},
"y":{"datum":394,"type":"quantitative","axis":{"orient":"right","values":[20,40,60,80,120,140,160,180,220,240,260,280,320,340,360,380,420,440,460,480],"labels":false,"tickSize":-4,"title":null}}}},
{"data":{"values":[{}]},"mark":{"type":"text","text":"Recoil - electron - alpha","fontSize":16,"align":"center","baseline":"alphabetic"},
"encoding":{"x":{"datum":7210,"type":"quantitative","axis":null},"y":{"datum":423,"type":"quantitative","axis":null}}},
{"data":{"values":[{}]},"mark":{"type":"text","text":"Δ","fontSize":16,"align":"left","baseline":"alphabetic"},
"encoding":{"x":{"datum":7172,"type":"quantitative","axis":null},"y":{"datum":382,"type":"quantitative","axis":null}}},
{"data":{"values":[{}]},"mark":{"type":"text","text":"t","fontSize":16,"fontStyle":"italic","align":"left","baseline":"alphabetic","dx":10},
"encoding":{"x":{"datum":7172,"type":"quantitative","axis":null},"y":{"datum":382,"type":"quantitative","axis":null}}},
{"data":{"values":[{}]},"mark":{"type":"text","text":"e-R","fontSize":12,"align":"left","baseline":"alphabetic","dx":14.5,"dy":6},
"encoding":{"x":{"datum":7172,"type":"quantitative","axis":null},"y":{"datum":382,"type":"quantitative","axis":null}}},
{"data":{"values":[{}]},"mark":{"type":"text","text":"< 10 ms","fontSize":16,"align":"left","baseline":"alphabetic","dx":31},
"encoding":{"x":{"datum":7172,"type":"quantitative","axis":null},"y":{"datum":382,"type":"quantitative","axis":null}}},
{"data":{"values":[{}]},"mark":{"type":"text","text":"(a)","fontSize":17,"align":"left","baseline":"alphabetic"},
"encoding":{"x":{"datum":6911,"type":"quantitative","axis":null},"y":{"datum":443,"type":"quantitative","axis":null}}}
],
"resolve":{"axis":{"x":"independent","y":"independent"}}},
{"width":550,"height":215,
"layer":[
{"data":{"name":"h2"},"mark":{"type":"line","interpolate":"step-after","color":"black","strokeWidth":1.5,"strokeDash":[1.5,3.5],"clip":true},
"encoding":{"x":{"field":"x","type":"quantitative","scale":{"domain":[60,230],"nice":false,"zero":false},
"axis":{"orient":"bottom","values":[60,80,100,120,140,160,180,200,220],"format":"d","tickSize":-8,"labelPadding":18,"labelFont":"Liberation Serif, Times New Roman, Times, serif","titleFont":"Liberation Serif, Times New Roman, Times, serif","title":"Electron energy (keV)","titleFontSize":26,"titlePadding":9}},
"y":{"field":"n","type":"quantitative","scale":{"domain":[0,120],"nice":false},
"axis":{"orient":"left","values":[0,20,40,60,80,100,120],"format":"d","tickSize":-8,"labelPadding":15,"labelFont":"Liberation Serif, Times New Roman, Times, serif","titleFont":"Liberation Serif, Times New Roman, Times, serif","title":"Counts / 10 keV","titleFontSize":25,"titlePadding":25}}}},
{"data":{"name":"pk"},"mark":{"type":"line","interpolate":"monotone","color":"black","strokeWidth":1.3,"strokeDash":[7,5],"clip":true},
"encoding":{"x":{"field":"x","type":"quantitative","axis":null},"y":{"field":"n","type":"quantitative","axis":null}}},
{"data":{"name":"h1"},"mark":{"type":"line","interpolate":"step-after","color":"black","strokeWidth":3,"clip":true},
"encoding":{"x":{"field":"x","type":"quantitative","axis":null},"y":{"field":"n","type":"quantitative","axis":null}}},
{"data":{"values":[{}]},"mark":{"type":"rect","fill":"white","stroke":"black","strokeWidth":1},
"encoding":{"x":{"datum":136.2,"type":"quantitative","axis":{"orient":"top","values":[60,80,100,120,140,160,180,200,220],"labels":false,"tickSize":-8,"title":null}},"x2":{"datum":226.3},
"y":{"datum":80.4,"type":"quantitative","axis":{"orient":"right","values":[0,20,40,60,80,100,120],"labels":false,"tickSize":-8,"title":null}},"y2":{"datum":114.4}}},
{"data":{"values":[{}]},"mark":{"type":"rule","color":"black","strokeWidth":3},
"encoding":{"x":{"datum":141.7,"type":"quantitative","axis":{"orient":"bottom","values":[70,90,110,130,150,170,190,210],"labels":false,"tickSize":-4,"title":null}},"x2":{"datum":150.1},"y":{"datum":108.3,"type":"quantitative","axis":{"orient":"left","values":[10,30,50,70,90,110],"labels":false,"tickSize":-4,"title":null}}}},
{"data":{"values":[{}]},"mark":{"type":"rule","color":"black","strokeWidth":1.5,"strokeDash":[1.5,3.5]},
"encoding":{"x":{"datum":141.7,"type":"quantitative","axis":{"orient":"top","values":[70,90,110,130,150,170,190,210],"labels":false,"tickSize":-4,"title":null}},"x2":{"datum":150.1},"y":{"datum":98.8,"type":"quantitative","axis":{"orient":"right","values":[10,30,50,70,90,110],"labels":false,"tickSize":-4,"title":null}}}},
{"data":{"values":[{}]},"mark":{"type":"rule","color":"black","strokeWidth":1.3,"strokeDash":[7,5]},
"encoding":{"x":{"datum":141.7,"type":"quantitative","axis":null},"x2":{"datum":150.1},"y":{"datum":89.3,"type":"quantitative","axis":null}}},
{"data":{"values":[{}]},"mark":{"type":"text","text":"Δ","fontSize":11,"align":"left","baseline":"middle"},
"encoding":{"x":{"datum":152,"type":"quantitative","axis":null},"y":{"datum":108.3,"type":"quantitative","axis":null}}},
{"data":{"values":[{}]},"mark":{"type":"text","text":"t","fontSize":11,"fontStyle":"italic","align":"left","baseline":"middle","dx":7},
"encoding":{"x":{"datum":152,"type":"quantitative","axis":null},"y":{"datum":108.3,"type":"quantitative","axis":null}}},
{"data":{"values":[{}]},"mark":{"type":"text","text":"e-R","fontSize":9,"align":"left","baseline":"middle","dx":10.5,"dy":4},
"encoding":{"x":{"datum":152,"type":"quantitative","axis":null},"y":{"datum":108.3,"type":"quantitative","axis":null}}},
{"data":{"values":[{}]},"mark":{"type":"text","text":"< 10 ms (proj.)","fontSize":11,"align":"left","baseline":"middle","dx":26},
"encoding":{"x":{"datum":152,"type":"quantitative","axis":null},"y":{"datum":108.3,"type":"quantitative","axis":null}}},
{"data":{"values":[{}]},"mark":{"type":"text","text":"90 ms < Δ","fontSize":11,"align":"left","baseline":"middle"},
"encoding":{"x":{"datum":152,"type":"quantitative","axis":null},"y":{"datum":98.8,"type":"quantitative","axis":null}}},
{"data":{"values":[{}]},"mark":{"type":"text","text":"t","fontSize":11,"fontStyle":"italic","align":"left","baseline":"middle","dx":44},
"encoding":{"x":{"datum":152,"type":"quantitative","axis":null},"y":{"datum":98.8,"type":"quantitative","axis":null}}},
{"data":{"values":[{}]},"mark":{"type":"text","text":"e-R","fontSize":9,"align":"left","baseline":"middle","dx":47.5,"dy":4},
"encoding":{"x":{"datum":152,"type":"quantitative","axis":null},"y":{"datum":98.8,"type":"quantitative","axis":null}}},
{"data":{"values":[{}]},"mark":{"type":"text","text":"< 100 ms (backgr.)","fontSize":11,"align":"left","baseline":"middle","dx":64},
"encoding":{"x":{"datum":152,"type":"quantitative","axis":null},"y":{"datum":98.8,"type":"quantitative","axis":null}}},
{"data":{"values":[{}]},"mark":{"type":"text","text":"Estimated peak (example:","fontSize":11,"align":"left","baseline":"middle"},
"encoding":{"x":{"datum":152,"type":"quantitative","axis":null},"y":{"datum":89.3,"type":"quantitative","axis":null}}},
{"data":{"values":[{}]},"mark":{"type":"text","text":"E","fontSize":11,"fontStyle":"italic","align":"left","baseline":"middle","dx":117},
"encoding":{"x":{"datum":152,"type":"quantitative","axis":null},"y":{"datum":89.3,"type":"quantitative","axis":null}}},
{"data":{"values":[{}]},"mark":{"type":"text","text":"(E3) = 150 keV)","fontSize":11,"align":"left","baseline":"middle","dx":124},
"encoding":{"x":{"datum":152,"type":"quantitative","axis":null},"y":{"datum":89.3,"type":"quantitative","axis":null}}},
{"data":{"values":[{}]},"mark":{"type":"text","text":"(b)","fontSize":17,"align":"left","baseline":"alphabetic"},
"encoding":{"x":{"datum":66.2,"type":"quantitative","axis":null},"y":{"datum":98.2,"type":"quantitative","axis":null}}}
],
"resolve":{"axis":{"x":"independent","y":"independent"}}}
]},
{"spacing":0,"bounds":"flush","vconcat":[
{"width":550,"height":235,
"layer":[
{"data":{"name":"pc"},"mark":{"type":"circle","size":30,"color":"black","opacity":1,"clip":true},
"encoding":{
"x":{"field":"a","type":"quantitative","scale":{"domain":[6900,7300],"nice":false,"zero":false},
"axis":{"orient":"bottom","values":[6900,7000,7100,7200,7300],"labels":false,"tickSize":-8,"title":null}},
"y":{"field":"e","type":"quantitative","scale":{"domain":[0,500],"nice":false},
"axis":{"orient":"left","values":[0,100,200,300,400,500],"format":"d","tickSize":-8,"labelPadding":15,"labelFont":"Liberation Serif, Times New Roman, Times, serif","titleFont":"Liberation Serif, Times New Roman, Times, serif","title":"Gamma-ray energy (keV)","titleFontSize":23,"titlePadding":26}}}},
{"data":{"values":[{}]},"mark":{"type":"rect","fill":"white","stroke":"black","strokeWidth":1},
"encoding":{"x":{"datum":7155,"type":"quantitative","axis":{"orient":"top","values":[6900,7000,7100,7200,7300],"labels":false,"tickSize":-8,"title":null}},"x2":{"datum":7288},
"y":{"datum":364,"type":"quantitative","axis":{"orient":"right","values":[0,100,200,300,400,500],"labels":false,"tickSize":-8,"title":null}},"y2":{"datum":472}}},
{"data":{"values":[{}]},"mark":{"type":"circle","size":30,"color":"black","opacity":1},
"encoding":{"x":{"datum":7177,"type":"quantitative","axis":{"orient":"bottom","values":[6950,7050,7150,7250],"labels":false,"tickSize":-4,"title":null}},
"y":{"datum":403,"type":"quantitative","axis":{"orient":"left","values":[20,40,60,80,120,140,160,180,220,240,260,280,320,340,360,380,420,440,460,480],"labels":false,"tickSize":-4,"title":null}}}},
{"data":{"values":[{}]},"mark":{"type":"text","text":"Recoil - gamma - alpha","fontSize":16,"align":"center","baseline":"alphabetic"},
"encoding":{"x":{"datum":7225,"type":"quantitative","axis":{"orient":"top","values":[6950,7050,7150,7250],"labels":false,"tickSize":-4,"title":null}},
"y":{"datum":434,"type":"quantitative","axis":{"orient":"right","values":[20,40,60,80,120,140,160,180,220,240,260,280,320,340,360,380,420,440,460,480],"labels":false,"tickSize":-4,"title":null}}}},
{"data":{"values":[{}]},"mark":{"type":"text","text":"Δ","fontSize":16,"align":"left","baseline":"alphabetic"},
"encoding":{"x":{"datum":7192,"type":"quantitative","axis":null},"y":{"datum":392,"type":"quantitative","axis":null}}},
{"data":{"values":[{}]},"mark":{"type":"text","text":"t","fontSize":16,"fontStyle":"italic","align":"left","baseline":"alphabetic","dx":10},
"encoding":{"x":{"datum":7192,"type":"quantitative","axis":null},"y":{"datum":392,"type":"quantitative","axis":null}}},
{"data":{"values":[{}]},"mark":{"type":"text","text":"γ−R","fontSize":12,"align":"left","baseline":"alphabetic","dx":14.5,"dy":6},
"encoding":{"x":{"datum":7192,"type":"quantitative","axis":null},"y":{"datum":392,"type":"quantitative","axis":null}}},
{"data":{"values":[{}]},"mark":{"type":"text","text":"< 100 μs","fontSize":16,"align":"left","baseline":"alphabetic","dx":35},
"encoding":{"x":{"datum":7192,"type":"quantitative","axis":null},"y":{"datum":392,"type":"quantitative","axis":null}}},
{"data":{"values":[{}]},"mark":{"type":"text","text":"(c)","fontSize":17,"align":"left","baseline":"alphabetic"},
"encoding":{"x":{"datum":6911,"type":"quantitative","axis":null},"y":{"datum":443,"type":"quantitative","axis":null}}}
],
"resolve":{"axis":{"x":"independent","y":"independent"}}},
{"width":550,"height":255,
"layer":[
{"data":{"name":"pd"},"mark":{"type":"circle","size":30,"color":"black","opacity":1,"clip":true},
"encoding":{
"x":{"field":"a","type":"quantitative","scale":{"domain":[6900,7300],"nice":false,"zero":false},
"axis":{"orient":"bottom","values":[6900,7000,7100,7200,7300],"format":"d","tickSize":-8,"labelPadding":21,"labelFont":"Liberation Serif, Times New Roman, Times, serif","titleFont":"Liberation Serif, Times New Roman, Times, serif","title":"Alpha-particle energy (keV)","titleFontSize":22,"titlePadding":12}},
"y":{"field":"e","type":"quantitative","scale":{"domain":[0,500],"nice":false},
"axis":{"orient":"left","values":[0,100,200,300,400],"format":"d","tickSize":-8,"labelPadding":15,"labelFont":"Liberation Serif, Times New Roman, Times, serif","titleFont":"Liberation Serif, Times New Roman, Times, serif","title":"Electron energy (keV)","titlePadding":26}}}},
{"data":{"values":[{}]},"mark":{"type":"rect","fill":"white","stroke":"black","strokeWidth":1},
"encoding":{"x":{"datum":7149,"type":"quantitative","axis":{"orient":"top","values":[6900,7000,7100,7200,7300],"labels":false,"tickSize":-8,"title":null}},"x2":{"datum":7288},
"y":{"datum":369,"type":"quantitative","axis":{"orient":"right","values":[0,100,200,300,400,500],"labels":false,"tickSize":-8,"title":null}},"y2":{"datum":469}}},
{"data":{"values":[{}]},"mark":{"type":"circle","size":30,"color":"black","opacity":1},
"encoding":{"x":{"datum":7173,"type":"quantitative","axis":{"orient":"bottom","values":[6950,7050,7150,7250],"labels":false,"tickSize":-4,"title":null}},
"y":{"datum":404,"type":"quantitative","axis":{"orient":"left","values":[20,40,60,80,120,140,160,180,220,240,260,280,320,340,360,380,420,440,460,480],"labels":false,"tickSize":-4,"title":null}}}},
{"data":{"values":[{}]},"mark":{"type":"text","text":"Recoil - electron - alpha","fontSize":16,"align":"center","baseline":"alphabetic"},
"encoding":{"x":{"datum":7224,"type":"quantitative","axis":{"orient":"top","values":[6950,7050,7150,7250],"labels":false,"tickSize":-4,"title":null}},
"y":{"datum":430,"type":"quantitative","axis":{"orient":"right","values":[20,40,60,80,120,140,160,180,220,240,260,280,320,340,360,380,420,440,460,480],"labels":false,"tickSize":-4,"title":null}}}},
{"data":{"values":[{}]},"mark":{"type":"text","text":"Δ","fontSize":16,"align":"left","baseline":"alphabetic"},
"encoding":{"x":{"datum":7186,"type":"quantitative","axis":null},"y":{"datum":395,"type":"quantitative","axis":null}}},
{"data":{"values":[{}]},"mark":{"type":"text","text":"t","fontSize":16,"fontStyle":"italic","align":"left","baseline":"alphabetic","dx":10},
"encoding":{"x":{"datum":7186,"type":"quantitative","axis":null},"y":{"datum":395,"type":"quantitative","axis":null}}},
{"data":{"values":[{}]},"mark":{"type":"text","text":"e-α","fontSize":12,"align":"left","baseline":"alphabetic","dx":14.5,"dy":6},
"encoding":{"x":{"datum":7186,"type":"quantitative","axis":null},"y":{"datum":395,"type":"quantitative","axis":null}}},
{"data":{"values":[{}]},"mark":{"type":"text","text":"< 100 μs","fontSize":16,"align":"left","baseline":"alphabetic","dx":31},
"encoding":{"x":{"datum":7186,"type":"quantitative","axis":null},"y":{"datum":395,"type":"quantitative","axis":null}}},
{"data":{"values":[{}]},"mark":{"type":"text","text":"(d)","fontSize":17,"align":"left","baseline":"alphabetic"},
"encoding":{"x":{"datum":6911,"type":"quantitative","axis":null},"y":{"datum":443,"type":"quantitative","axis":null}}}
],
"resolve":{"axis":{"x":"independent","y":"independent"}}}
]}
]
}
